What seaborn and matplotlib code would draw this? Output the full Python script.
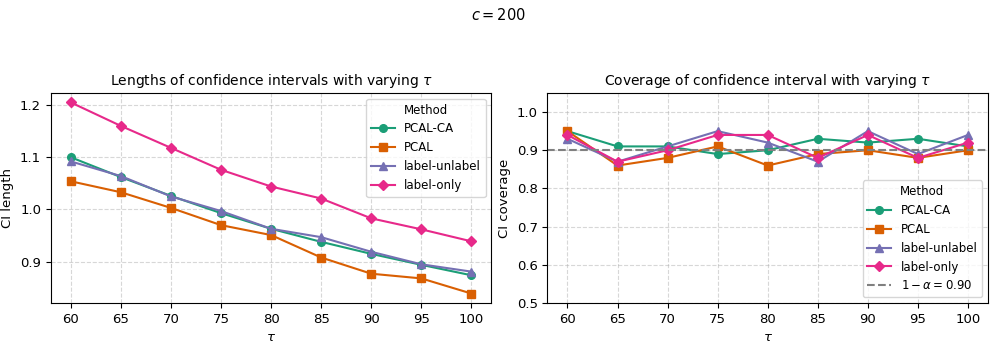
import pandas as pd
import numpy as np
import seaborn as sns
import matplotlib.pyplot as plt

# values
taus = [60, 65, 70, 75, 80, 85, 90, 95, 100]
methods = ['PCAL-CA', 'PCAL', 'label-unlabel', 'label-only']

len_pcal_ca = [1.100, 1.062, 1.026, 0.993, 0.963, 0.938, 0.915, 0.894, 0.874]
len_pcal = [1.054, 1.033, 1.003, 0.970, 0.951, 0.908, 0.877, 0.868, 0.839]
len_label_unlabel = [1.092, 1.064, 1.025, 0.997, 0.963, 0.947, 0.919, 0.895, 0.881]
len_label_only = [1.205, 1.160, 1.118, 1.076, 1.044, 1.021, 0.983, 0.962, 0.939]

cov_pcal_ca = [0.95, 0.91, 0.91, 0.89, 0.90, 0.93, 0.92, 0.93, 0.91]
cov_pcal = [0.95, 0.86, 0.88, 0.91, 0.86, 0.89, 0.90, 0.88, 0.90]
cov_label_unlabel = [0.93, 0.87, 0.91, 0.95, 0.92, 0.87, 0.95, 0.89, 0.94]
cov_label_only = [0.94, 0.87, 0.90, 0.94, 0.94, 0.88, 0.94, 0.88, 0.92]

alpha = 0.10

lens = [len_pcal_ca, len_pcal, len_label_unlabel, len_label_only]
covs = [cov_pcal_ca, cov_pcal, cov_label_unlabel, cov_label_only]

palette = sns.color_palette('Dark2', 4)
markers = ['o', 's', '^', 'D']

fig, axes = plt.subplots(1, 2, figsize=(9.97, 3.48), dpi=100)
fig.subplots_adjust(left=0.051, right=0.991, bottom=0.129, top=0.733, wspace=0.127)


def draw(ax, series):
    for m, vals, col, mk in zip(methods, series, palette, markers):
        sns.lineplot(x=taus, y=vals, color=col, marker=mk, markersize=5.5,
                     linewidth=1.5, label=m, ax=ax)
    # same-colour marker edges like plain matplotlib
    for line in ax.lines:
        line.set_markeredgecolor(line.get_color())
        line.set_markeredgewidth(1.0)
    ax.set_xticks(taus)
    ax.tick_params(labelsize=9.5)
    ax.grid(True, linestyle='--', alpha=0.5)


# Lengths
ax = axes[0]
draw(ax, lens)
ax.set_title(r'Lengths of confidence intervals with varying $\tau$', fontsize=10)
ax.set_xlabel(r'$\tau$', fontsize=9.5)
ax.set_ylabel('CI length', fontsize=9.5)
ax.set_yticks([0.9, 1.0, 1.1, 1.2])
ax.legend(title='Method', loc='upper right', fontsize=8.5, title_fontsize=8.5)

# Coverage
ax = axes[1]
draw(ax, covs)
ax.axhline(1 - alpha, color='gray', linestyle='--', linewidth=1.5,
           label=r'$1-\alpha = 0.90$')
ax.set_ylim(0.5, 1.05)
ax.set_title(r'Coverage of confidence interval with varying $\tau$', fontsize=10)
ax.set_xlabel(r'$\tau$', fontsize=9.5)
ax.set_ylabel('CI coverage', fontsize=9.5)
ax.legend(title='Method', loc='lower right', fontsize=8.5, title_fontsize=8.5)

fig.suptitle(r'$c = 200$', fontsize=10.5, y=0.98)
fig.savefig('out.png', dpi=100)
